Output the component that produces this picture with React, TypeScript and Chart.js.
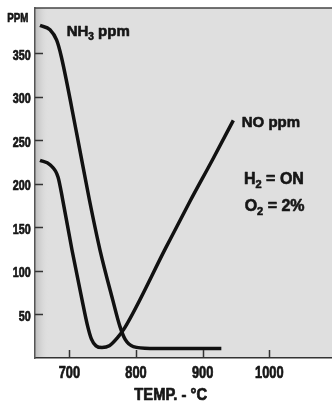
import React, { useEffect, useRef } from 'react';
import { Chart, registerables } from 'chart.js';
Chart.register(...registerables);

const nh3Temp = [656, 671, 681, 688, 711, 730, 746, 765, 776, 784, 796, 821, 928];
const nh3Ppm = [382, 377, 365, 346, 258, 182, 124, 67, 36, 21, 13, 11, 11];
const noTemp = [656, 671, 683, 690, 704, 719, 727, 733, 740, 749, 760, 772, 783, 845, 881, 915, 946];
const noPpm = [227, 222, 208, 182, 124, 67, 38, 22, 14, 12, 14, 23, 34.5, 127, 180, 228, 273];
const xTicks = [700, 800, 900, 1000];
const yTicks = [50, 100, 150, 200, 250, 300, 350];

const BOLD = "'Liberation Sans', Arial, sans-serif";
const INK = '#161616';

type Seg = { t: string; sub?: boolean };

function drawSegs(ctx: CanvasRenderingContext2D, segs: Seg[], x: number, y: number, size: number) {
  let cx = x;
  ctx.fillStyle = INK;
  ctx.strokeStyle = INK;
  ctx.lineWidth = 0.6;
  ctx.lineJoin = 'round';
  for (const s of segs) {
    const fs = s.sub ? Math.round(size * 0.68) : size;
    ctx.font = `700 ${fs}px ${BOLD}`;
    const yy = s.sub ? y + size * 0.28 : y;
    ctx.fillText(s.t, cx, yy);
    ctx.strokeText(s.t, cx, yy);
    cx += ctx.measureText(s.t).width;
  }
}

function drawNarrow(
  ctx: CanvasRenderingContext2D,
  text: string,
  x: number,
  y: number,
  size: number,
  align: CanvasTextAlign,
  sx: number
) {
  ctx.save();
  ctx.translate(x, y);
  ctx.scale(sx, 1);
  ctx.font = `700 ${size}px ${BOLD}`;
  ctx.textAlign = align;
  ctx.textBaseline = 'alphabetic';
  ctx.fillStyle = INK;
  ctx.strokeStyle = INK;
  ctx.lineWidth = 0.7;
  ctx.lineJoin = 'round';
  ctx.fillText(text, 0, 0);
  ctx.strokeText(text, 0, 0);
  ctx.restore();
}

const deco = {
  id: 'deco',
  beforeDraw(chart: any) {
    const { ctx, chartArea: a } = chart;
    ctx.save();
    ctx.fillStyle = '#ffffff';
    ctx.fillRect(0, 0, chart.width, chart.height);
    ctx.fillStyle = '#dfdfdf';
    ctx.fillRect(a.left, a.top, a.right - a.left, a.bottom - a.top);
    const g = ctx.createLinearGradient(a.left, 0, a.left + 14, 0);
    g.addColorStop(0, 'rgba(188,188,188,1)');
    g.addColorStop(1, 'rgba(223,223,223,0)');
    ctx.fillStyle = g;
    ctx.fillRect(a.left, a.top, 14, a.bottom - a.top);
    ctx.restore();
  },
  afterDraw(chart: any) {
    const { ctx, chartArea: a, scales } = chart;
    const xs = scales.x;
    const ys = scales.y;
    ctx.save();
    // top border
    ctx.strokeStyle = '#444';
    ctx.lineWidth = 1.5;
    ctx.beginPath();
    ctx.moveTo(a.left, a.top);
    ctx.lineTo(a.right, a.top);
    ctx.stroke();
    // inward tick marks
    ctx.strokeStyle = '#333';
    ctx.lineWidth = 1.5;
    ctx.beginPath();
    for (const v of xTicks) {
      const px = Math.round(xs.getPixelForValue(v)) + 0.5;
      ctx.moveTo(px, a.bottom);
      ctx.lineTo(px, a.bottom - 8);
    }
    for (const v of yTicks) {
      const py = Math.round(ys.getPixelForValue(v)) + 0.5;
      ctx.moveTo(a.left, py);
      ctx.lineTo(a.left + 8, py);
    }
    ctx.stroke();
    // tick labels (condensed)
    for (const v of xTicks) {
      drawNarrow(ctx, String(v), xs.getPixelForValue(v), a.bottom + 20.3, 16, 'center', 0.8);
    }
    for (const v of yTicks) {
      drawNarrow(ctx, String(v), a.left - 4.3, ys.getPixelForValue(v) + 6.5, 14, 'right', 0.77);
    }
    drawNarrow(ctx, 'PPM', a.left - 6.7, ys.getPixelForValue(386), 13, 'right', 0.75);
    drawNarrow(ctx, 'TEMP. - °C', xs.getPixelForValue(852), 400, 16, 'center', 0.92);
    // annotations
    ctx.textBaseline = 'alphabetic';
    ctx.textAlign = 'left';
    drawSegs(ctx, [{ t: 'NH' }, { t: '3', sub: true }, { t: ' ppm' }], xs.getPixelForValue(696), ys.getPixelForValue(370), 15);
    drawSegs(ctx, [{ t: 'NO ppm' }], xs.getPixelForValue(958.6), ys.getPixelForValue(265.7), 15);
    drawSegs(ctx, [{ t: 'H' }, { t: '2', sub: true }, { t: ' = ON' }], xs.getPixelForValue(962), ys.getPixelForValue(200.4), 16);
    drawSegs(ctx, [{ t: 'O' }, { t: '2', sub: true }, { t: ' = 2%' }], xs.getPixelForValue(963), ys.getPixelForValue(169.4), 16);
    ctx.restore();
  },
};

export default function App() {
  const ref = useRef<HTMLCanvasElement | null>(null);
  useEffect(() => {
    if (!ref.current) return;
    const chart = new Chart(ref.current, {
      type: 'line',
      data: {
        datasets: [
          {
            label: 'NH3 ppm',
            data: nh3Temp.map((t, i) => ({ x: t, y: nh3Ppm[i] })),
            borderColor: '#111',
            borderWidth: 3.5,
            pointRadius: 0,
            cubicInterpolationMode: 'monotone',
            fill: false,
          },
          {
            label: 'NO ppm',
            data: noTemp.map((t, i) => ({ x: t, y: noPpm[i] })),
            borderColor: '#111',
            borderWidth: 3.5,
            pointRadius: 0,
            cubicInterpolationMode: 'monotone',
            fill: false,
          },
        ],
      },
      options: {
        animation: false,
        responsive: true,
        maintainAspectRatio: false,
        layout: { padding: { top: 8, left: 0, right: 0, bottom: 0 } },
        plugins: { legend: { display: false }, tooltip: { enabled: false } },
        scales: {
          x: {
            type: 'linear',
            min: 648.5,
            max: 1094,
            afterBuildTicks: (s: any) => {
              s.ticks = xTicks.map((v) => ({ value: v }));
            },
            afterFit: (s: any) => {
              s.height = 43;
            },
            ticks: { display: false },
            grid: { display: true, drawOnChartArea: false, drawTicks: false },
            border: { display: true, color: '#333', width: 1.5 },
          },
          y: {
            type: 'linear',
            min: 0,
            max: 402,
            afterBuildTicks: (s: any) => {
              s.ticks = yTicks.map((v) => ({ value: v }));
            },
            afterFit: (s: any) => {
              s.width = 35;
            },
            ticks: { display: false },
            grid: { display: true, drawOnChartArea: false, drawTicks: false },
            border: { display: true, color: '#555', width: 1.5 },
          },
        },
      },
      plugins: [deco],
    } as any);
    return () => chart.destroy();
  }, []);
  return (
    <div style={{ position: 'fixed', left: 0, top: 0, width: 332, height: 401, background: '#fff' }}>
      <canvas ref={ref} />
    </div>
  );
}
